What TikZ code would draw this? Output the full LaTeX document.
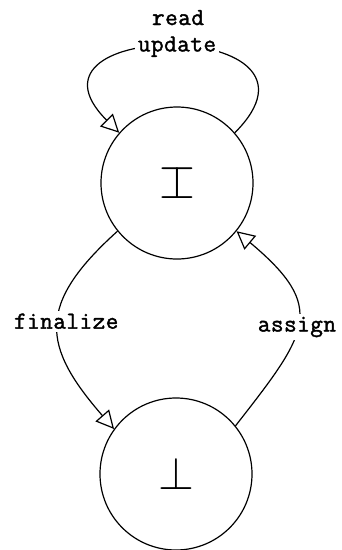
\documentclass[tikz,border=0pt]{standalone}
\usepackage{fontspec}
\newfontfamily\lblfont{Latin Modern Mono}[FakeBold=1.6, LetterSpace=2]
\usetikzlibrary{arrows.meta}
\begin{document}
\begin{tikzpicture} [x=1pt, y=1pt,
    >={Triangle[open, length=18pt, width=18pt]},
    line width=1.2pt,
    state/.style={circle, draw, minimum size=152pt, inner sep=0pt},
    lbl/.style={fill=white, inner sep=3pt,
      font=\fontsize{24.5}{28}\selectfont\lblfont}]
  \useasboundingbox (0,0) rectangle (342,-550);
  \node[state] (top) at (177,-183) {\scalebox{4.6}{\rlap{$\top$}$\bot$}};
  \node[state] (bot) at (176,-474) {\scalebox{4.6}{$\bot$}};

  \draw[->] (top.41) to[out=45, in=135, looseness=3.6]
    node[lbl] (upd) {update} (top.139);
  \node[lbl, anchor=base] (rd) at (178,-25) {read};
  \draw[->] (top.219) to[out=222, in=131, looseness=1.42]
    node[lbl, pos=0.47, xshift=8pt] (fin) {finalize} (bot.144);
  \draw[->] (bot.39) to[out=52, in=-40, looseness=1.56]
    node[lbl, pos=0.47] (asg) {assign} (top.-39);
\end{tikzpicture}
\end{document}
